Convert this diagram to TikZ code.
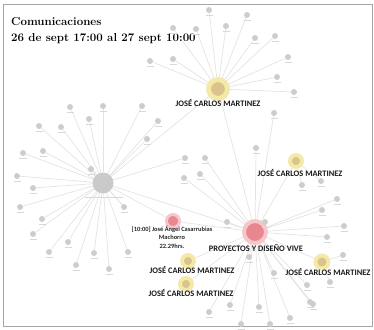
\documentclass[tikz,border=0pt]{standalone}
\usepackage{fontspec}
\newfontfamily\lblfont{Carlito}
\usetikzlibrary{positioning, backgrounds}
\definecolor{edgegray}{HTML}{E3E3E3}
\definecolor{leafgray}{HTML}{CDCDCD}
\definecolor{lblgray}{HTML}{D8D8D8}
\definecolor{hubgray}{HTML}{CACACA}
\definecolor{tanfill}{HTML}{D9C48C}
\definecolor{tanglow}{HTML}{F4E9A8}
\definecolor{redfill}{HTML}{E8878F}
\definecolor{redglow}{HTML}{F5C6CA}
\tikzset{
  edge/.style={draw=edgegray, line width=0.7pt},
  leaf/.style={circle, fill=leafgray, minimum size=6pt, inner sep=0pt,
    label={[text=lblgray, inner sep=0pt, label distance=1.2pt]below:\rule{7pt}{0.7pt}}},
  yhub/.style={circle, fill=tanfill, draw=tanglow, line width=4pt, minimum size=12pt, inner sep=0pt},
  rhub/.style={circle, fill=redfill, draw=redglow, line width=4pt, minimum size=20pt, inner sep=0pt},
  ghub/.style={circle, fill=hubgray, minimum size=21pt, inner sep=0pt},
  hubtxt/.style={font=\lblfont\bfseries\fontsize{8.4}{9}\selectfont, inner sep=0pt, text=black!90},
  smalltxt/.style={font=\lblfont\bfseries\fontsize{6.4}{8.5}\selectfont, inner sep=0pt, align=center, text=black!85},
  title/.style={font=\bfseries\fontsize{11.5}{16}\selectfont, align=left, inner sep=0pt, anchor=north west}
}
\begin{document}
\begin{tikzpicture}[x=1pt, y=-1pt]
  \useasboundingbox (0,0) rectangle (374,329);
  \draw[gray!70, line width=0.9pt] (3,4) rectangle (372,326);

  \node[title] (titulo) at (11,17) {Comunicaciones\\26 de sept 17:00 al 27 sept 10:00};

  % hubs
  \node[yhub, minimum size=19pt, line width=5pt] (jcmA) at (218,89) {};
  \node[ghub] (gris) at (103,183) {};
  \node[rhub, minimum size=22pt] (vive) at (255,232) {};
  \node[rhub, minimum size=13pt, line width=3pt] (casa) at (173,221) {};
  \node[yhub] (jcmB) at (296,161) {};
  \node[yhub, minimum size=13pt] (jcmC) at (322,262) {};
  \node[yhub] (jcmD) at (188,261) {};
  \node[yhub] (jcmE) at (186,284) {};

  % leaves of each hub
  \foreach \x/\y [count=\i] in {209/10, 247/15, 226/26, 196/29, 173/28, 173/59, 150/61,
      255/38, 275/36, 288/57, 277/77, 294/92} {
    \node[leaf] (a\i) at (\x,\y) {};
    \begin{pgfonlayer}{background}\draw[edge] (jcmA) -- (a\i);\end{pgfonlayer}
  }
  \foreach \x/\y [count=\i] in {70/107, 103/106, 142/106, 39/126, 61/127, 89/119, 158/121,
      147/139, 23/153, 43/151, 17/176, 33/188, 91/169, 20/207, 42/219, 124/207,
      33/234, 68/242, 49/252, 94/253, 76/265, 109/269, 128/252, 185/158} {
    \node[leaf] (g\i) at (\x,\y) {};
    \begin{pgfonlayer}{background}\draw[edge] (gris) -- (g\i);\end{pgfonlayer}
  }
  \foreach \x/\y [count=\i] in {184/178, 205/158, 200/174, 256/148, 274/113, 227/222,
      265/222, 249/257, 274/273, 307/285, 310/302, 290/318, 259/307, 230/305, 209/312,
      241/324, 270/324, 313/304, 337/199, 322/210, 344/226, 327/237} {
    \node[leaf] (v\i) at (\x,\y) {};
    \begin{pgfonlayer}{background}\draw[edge] (vive) -- (v\i);\end{pgfonlayer}
  }
  \foreach \x/\y [count=\i] in {302/185, 321/181} {
    \node[leaf] (b\i) at (\x,\y) {};
    \begin{pgfonlayer}{background}\draw[edge] (jcmB) -- (b\i);\end{pgfonlayer}
  }
  \foreach \x/\y [count=\i] in {343/255, 330/282} {
    \node[leaf] (c\i) at (\x,\y) {};
    \begin{pgfonlayer}{background}\draw[edge] (jcmC) -- (c\i);\end{pgfonlayer}
  }

  % links between hubs
  \begin{pgfonlayer}{background}
    \foreach \h in {gris, jcmA, casa, jcmB, jcmC, jcmD, jcmE}
      \draw[edge] (vive) -- (\h);
    \draw[edge] (gris) -- (jcmA);
    \draw[edge] (gris) -- (casa);
    \draw[edge] (gris) -- (g16);
  \end{pgfonlayer}

  % hub labels
  \draw[lblgray, line width=0.8pt] (85,197) -- (123,197);
  \node[hubtxt] (jcmAtxt) at (218,103) {JOSÉ CARLOS MARTINEZ};
  \node[hubtxt] (jcmBtxt) at (300,173) {JOSÉ CARLOS MARTINEZ};
  \node[hubtxt] (jcmCtxt) at (328,272) {JOSÉ CARLOS MARTINEZ};
  \node[hubtxt] (jcmDtxt) at (192,270) {JOSÉ CARLOS MARTINEZ};
  \node[hubtxt] (jcmEtxt) at (191,293) {JOSÉ CARLOS MARTINEZ};
  \node[hubtxt] (vivetxt) at (256,248) {PROYECTOS Y DISEÑO VIVE};
  \node[smalltxt] (casatxt) at (172,237) {[10:00] José Ángel Casarrubias\\Machorro\\22.29hrs.};
\end{tikzpicture}
\end{document}
